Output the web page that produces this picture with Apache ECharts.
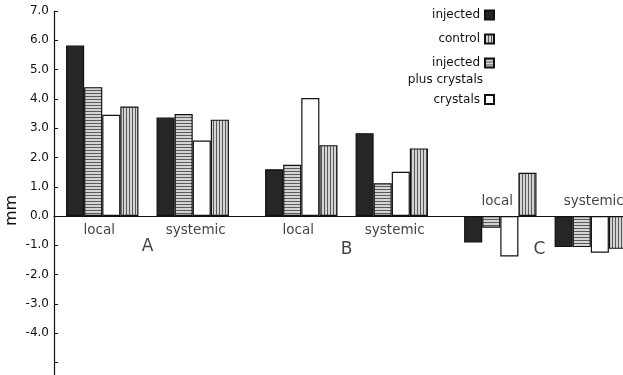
<!DOCTYPE html>
<html><head><meta charset="utf-8">
<script src="https://cdn.jsdelivr.net/npm/echarts@6/dist/echarts.min.js"></script>
<style>html,body{margin:0;padding:0;background:#fff}#c{width:623px;height:375px}</style>
</head><body><div id="c"></div>
<script>
// ---- data ----
const groupNames = ['local', 'systemic', 'local', 'systemic', 'local', 'systemic'];
const sectionLetters = ['A', 'B', 'C'];
const injected             = [5.82, 3.36, 1.60, 2.83, -0.90, -1.06];
const injectedPlusCrystals = [4.40, 3.48, 1.75, 1.12, -0.40, -1.06];
const crystals             = [3.46, 2.58, 4.03, 1.51, -1.38, -1.25];
const control              = [3.74, 3.29, 2.42, 2.31, 1.48, -1.12];
const yTickLabels = ['-4.0', '-3.0', '-2.0', '-1.0', '0.0', '1.0', '2.0', '3.0', '4.0', '5.0', '6.0', '7.0'];
const S_INJ = 'injected', S_CTL = 'control', S_IPC = 'injected plus crystals', S_CRY = 'crystals';

// ---- layout (fine category slots: each bar = 3 slots) ----
const N = 96;
const groupStartSlot = [0, 5, 11, 16, 22, 27];
const groupLabelY = [-0.5, -0.5, -0.5, -0.5, 0.48, 0.48];
const letterIdx = [15, 48, 80];
const letterY = [-1.05, -1.16, -1.16];
const FONT = '"DejaVu Sans", sans-serif';

function pattern(horizontal) {
  const c = document.createElement('canvas');
  c.width = 3; c.height = 3;
  const g = c.getContext('2d');
  g.fillStyle = '#d4d4d4'; g.fillRect(0, 0, 3, 3);
  g.fillStyle = '#5a5a5a';
  if (horizontal) g.fillRect(0, 0, 3, 1); else g.fillRect(0, 0, 1, 3);
  return { image: c, repeat: 'repeat' };
}

function slotData(values, seriesPos) {
  const arr = new Array(N).fill('-');
  values.forEach((v, g) => { arr[3 + 3 * (groupStartSlot[g] + seriesPos)] = v; });
  return arr;
}

const cats = Array.from({ length: N }, (_, i) => String(i));
const barCommon = {
  type: 'bar', barWidth: 18.1, barGap: '-100%',
  itemStyle: { borderColor: '#111', borderWidth: 1.2 }
};

const annot = [];
groupNames.forEach((t, g) => {
  annot.push({ value: [7 + 3 * groupStartSlot[g] + (t === 'systemic' ? 1 : 0), groupLabelY[g]], name: t,
    label: { fontSize: 13.5 } });
});
sectionLetters.forEach((t, i) => {
  annot.push({ value: [letterIdx[i], letterY[i]], name: t, label: { fontSize: 17 } });
});

const legendCommon = {
  orient: 'vertical', right: 128, align: 'right', padding: 0, icon: 'rect',
  itemWidth: 9, itemHeight: 9, itemGap: 9,
  textStyle: { fontFamily: FONT, fontSize: 12, color: '#111', lineHeight: 15 },
  formatter: n => n === S_IPC ? 'injected' : n
};

const chart = echarts.init(document.getElementById('c'));
chart.setOption({
  animation: false,
  backgroundColor: '#fff',
  textStyle: { fontFamily: FONT },
  grid: { left: 54, top: 11, right: -10, bottom: -16.8, containLabel: false, outerBoundsMode: 'none' },
  legend: [
    Object.assign({}, legendCommon, { top: 7.5, data: [S_INJ, S_CTL, S_IPC] }),
    Object.assign({}, legendCommon, { top: 92, data: [S_CRY] })
  ],
  graphic: [{
    type: 'text', right: 140, top: 74,
    style: { text: 'plus crystals', font: '12px "DejaVu Sans", sans-serif', fill: '#111' }
  }],
  xAxis: {
    type: 'category', data: cats,
    axisLine: { onZero: true, lineStyle: { color: '#111', width: 1.2 } },
    axisTick: { show: false }, axisLabel: { show: false }, splitLine: { show: false }
  },
  yAxis: {
    type: 'value', min: -6, max: 7, interval: 1,
    name: 'mm', nameLocation: 'middle', nameGap: 34, nameRotate: 90, nameMoveOverlap: false,
    nameTextStyle: { fontFamily: FONT, fontSize: 16, color: '#111', padding: [0, 18, 0, 0] },
    axisLine: { show: true, onZero: false, lineStyle: { color: '#111', width: 1.2 } },
    axisTick: { show: true, inside: true, length: 4, lineStyle: { color: '#111' } },
    axisLabel: {
      margin: 5, fontFamily: FONT, fontSize: 12, color: '#111',
      formatter: v => { const s = v.toFixed(1); return yTickLabels.includes(s) ? s : ''; }
    },
    splitLine: { show: false }
  },
  series: [
    Object.assign({}, barCommon, { name: S_INJ, data: slotData(injected, 0),
      itemStyle: Object.assign({}, barCommon.itemStyle, { color: '#262626' }) }),
    Object.assign({}, barCommon, { name: S_IPC, data: slotData(injectedPlusCrystals, 1),
      itemStyle: Object.assign({}, barCommon.itemStyle, { color: pattern(true) }) }),
    Object.assign({}, barCommon, { name: S_CRY, data: slotData(crystals, 2),
      itemStyle: Object.assign({}, barCommon.itemStyle, { color: '#ffffff' }) }),
    Object.assign({}, barCommon, { name: S_CTL, data: slotData(control, 3),
      itemStyle: Object.assign({}, barCommon.itemStyle, { color: pattern(false) }) }),
    {
      type: 'scatter', symbolSize: 0, silent: true, data: annot, z: 5,
      label: { show: true, position: 'inside', formatter: '{b}', color: '#111', fontFamily: FONT }
    }
  ]
});
</script></body></html>
